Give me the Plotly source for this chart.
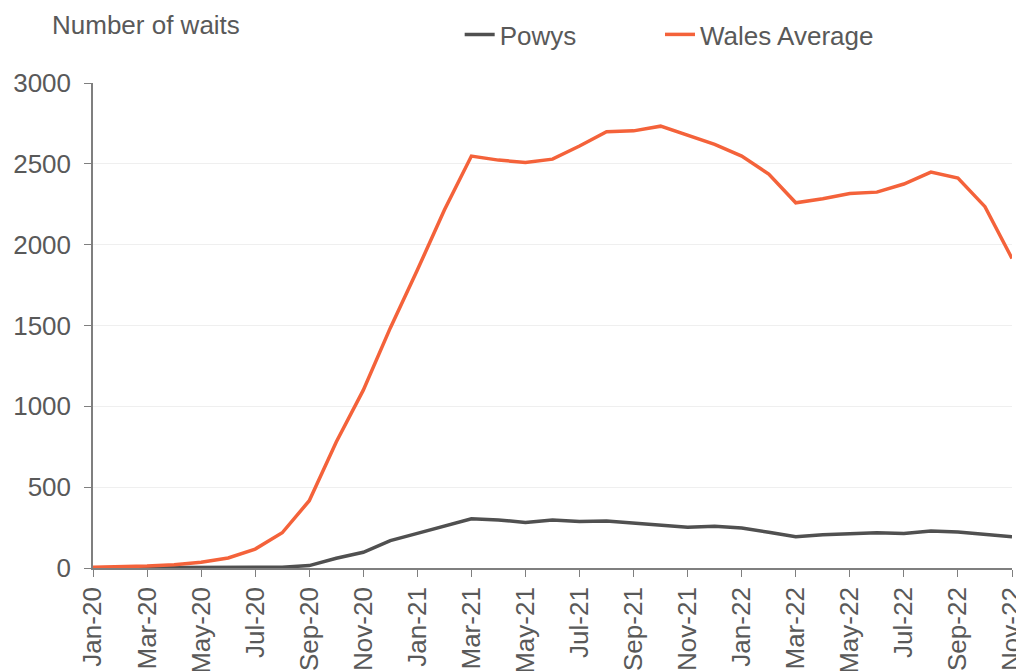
import plotly.graph_objects as go

months = ["Jan-20","Feb-20","Mar-20","Apr-20","May-20","Jun-20","Jul-20","Aug-20","Sep-20","Oct-20","Nov-20","Dec-20",
          "Jan-21","Feb-21","Mar-21","Apr-21","May-21","Jun-21","Jul-21","Aug-21","Sep-21","Oct-21","Nov-21","Dec-21",
          "Jan-22","Feb-22","Mar-22","Apr-22","May-22","Jun-22","Jul-22","Aug-22","Sep-22","Oct-22","Nov-22"]

powys = [1, 1, 2, 2, 3, 3, 4, 5, 15, 60, 97, 169,
         214, 258, 305, 297, 282, 297, 288, 290, 278, 262, 252, 258,
         248, 221, 194, 206, 214, 218, 214, 229, 222, 208, 194]

wales = [5, 8, 12, 20, 35, 62, 117, 218, 416, 780, 1100, 1485,
         1843, 2214, 2548, 2523, 2509, 2529, 2610, 2698, 2704, 2733, 2678, 2620,
         2548, 2437, 2259, 2284, 2317, 2325, 2375, 2449, 2412, 2235, 1915]

tick_labels = months[::2]

FONT = "Liberation Sans, Arial, sans-serif"
TXT = "#595959"

fig = go.Figure()
fig.add_trace(go.Scatter(x=months, y=powys, name="Powys", mode="lines",
                         line=dict(color="#505050", width=3.5), legend="legend"))
fig.add_trace(go.Scatter(x=months, y=wales, name="Wales Average", mode="lines",
                         line=dict(color="#F4623A", width=3.5), legend="legend2"))

leg_common = dict(orientation="h", y=1.1, xanchor="left", yanchor="middle",
                  font=dict(size=26, color=TXT, family=FONT), bgcolor="rgba(0,0,0,0)",
                  itemwidth=30)

# page body has an 8px margin, so the figure is sized/offset accordingly
fig.update_layout(
    width=1016, height=663,
    margin=dict(l=85, r=12, t=75, b=103, autoexpand=False),
    plot_bgcolor="white", paper_bgcolor="white",
    font=dict(family=FONT, size=26, color=TXT),
    showlegend=True,
    legend=dict(x=0.399, **leg_common),
    legend2=dict(x=0.617, **leg_common),
    annotations=[dict(text="Number of waits", xref="paper", yref="paper",
                      x=-0.047, y=1.12, xanchor="left", yanchor="middle",
                      showarrow=False, font=dict(size=26, color=TXT))],
)

fig.update_xaxes(type="category", categoryorder="array", categoryarray=months,
                 range=[0, len(months) - 1], automargin=False,
                 tickmode="array", tickvals=tick_labels, ticktext=tick_labels,
                 tickangle=-90, ticks="outside", ticklen=7, tickcolor="#7f7f7f",
                 showline=True, linecolor="#7f7f7f", linewidth=1.5,
                 showgrid=False, zeroline=False,
                 tickfont=dict(size=26, color=TXT))

fig.update_yaxes(range=[0, 3000], tickvals=[0, 500, 1000, 1500, 2000, 2500, 3000],
                 automargin=False, ticklabelstandoff=8,
                 ticks="outside", ticklen=7, tickcolor="#7f7f7f",
                 showline=True, linecolor="#7f7f7f", linewidth=1.5,
                 showgrid=True, gridcolor="#efefef", gridwidth=1,
                 zeroline=False, tickfont=dict(size=26, color=TXT))

fig.write_html("out.html")
